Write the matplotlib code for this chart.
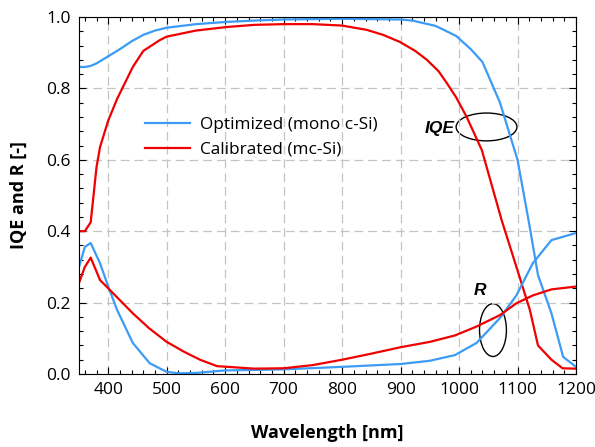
import matplotlib.pyplot as plt
from matplotlib.patches import Ellipse
from matplotlib.ticker import MultipleLocator

# Internal quantum efficiency and reflectance curves
wl_iqe_opt = [350, 360, 370, 380, 400, 420, 440, 460, 480, 500, 550, 600, 650, 700, 800, 900, 920,
              960, 995, 1020, 1040, 1070, 1100, 1120, 1135, 1158, 1178, 1200]
iqe_opt = [0.860, 0.860, 0.863, 0.870, 0.890, 0.910, 0.932, 0.950, 0.962, 0.970, 0.980, 0.986,
           0.990, 0.993, 0.995, 0.993, 0.990, 0.975, 0.947, 0.910, 0.874, 0.760, 0.600, 0.420,
           0.277, 0.170, 0.048, 0.020]

wl_iqe_cal = [350, 360, 370, 380, 386, 400, 415, 442, 460, 488, 500, 550, 603, 650, 700, 750, 800,
              842, 870, 899, 925, 945, 965, 979, 995, 1013, 1039, 1073, 1100, 1121, 1135, 1158,
              1177, 1200]
iqe_cal = [0.400, 0.400, 0.425, 0.580, 0.636, 0.710, 0.770, 0.860, 0.905, 0.935, 0.945, 0.962,
           0.972, 0.978, 0.980, 0.980, 0.976, 0.964, 0.950, 0.930, 0.905, 0.880, 0.848, 0.815,
           0.775, 0.720, 0.627, 0.430, 0.290, 0.180, 0.080, 0.040, 0.016, 0.015]

wl_r_opt = [350, 360, 370, 386, 400, 415, 442, 471, 500, 520, 550, 600, 700, 800, 900, 950, 993,
            1030, 1070, 1098, 1126, 1158, 1200]
r_opt = [0.300, 0.356, 0.367, 0.310, 0.245, 0.180, 0.087, 0.030, 0.006, 0.002, 0.003, 0.010,
         0.013, 0.020, 0.028, 0.037, 0.053, 0.087, 0.157, 0.220, 0.310, 0.375, 0.395]

wl_r_cal = [350, 360, 370, 386, 400, 442, 470, 500, 530, 557, 586, 650, 700, 750, 800, 850, 900,
            950, 993, 1030, 1070, 1098, 1126, 1158, 1200]
r_cal = [0.255, 0.300, 0.326, 0.263, 0.240, 0.170, 0.128, 0.090, 0.062, 0.040, 0.022, 0.015,
         0.016, 0.025, 0.040, 0.057, 0.075, 0.090, 0.108, 0.133, 0.165, 0.198, 0.220, 0.237, 0.245]

blue = '#3b9bf5'
red = '#f00000'

fig = plt.figure(figsize=(5.95, 4.47), dpi=100)
ax = fig.add_axes([79 / 595, 1 - 374 / 447, 497 / 595, 357 / 447])

ax.plot(wl_iqe_opt, iqe_opt, color=blue, lw=1.6, label='Optimized (mono c-Si)')
ax.plot(wl_iqe_cal, iqe_cal, color=red, lw=1.6, label='Calibrated (mc-Si)')
ax.plot(wl_r_opt, r_opt, color=blue, lw=1.6)
ax.plot(wl_r_cal, r_cal, color=red, lw=1.6)

ax.set_xlim(350, 1200)
ax.set_ylim(0, 1.0)
ax.xaxis.set_major_locator(MultipleLocator(100))
ax.xaxis.set_minor_locator(MultipleLocator(20))
ax.yaxis.set_major_locator(MultipleLocator(0.2))
ax.yaxis.set_minor_locator(MultipleLocator(0.04))
ax.set_xticks(range(400, 1201, 100))
ax.tick_params(which='both', direction='in', top=True, right=True, labelsize=12.5, width=0.8)
ax.tick_params(which='major', length=5, pad=6)
ax.tick_params(which='minor', length=3)
for lab in ax.get_xticklabels() + ax.get_yticklabels():
    lab.set_family('Open Sans')
ax.yaxis.set_major_formatter(plt.FormatStrFormatter('%.1f'))
ax.grid(True, which='major', color='#c4c4c4', lw=0.9, linestyle=(0, (7, 4)))
for s in ax.spines.values():
    s.set_linewidth(0.8)

ax.set_xlabel('Wavelength [nm]', family='Open Sans', weight='bold', fontsize=13)
ax.set_ylabel('IQE and R [-]', family='Open Sans', weight='bold', fontsize=13)
ax.xaxis.set_label_coords(0.5, -0.141)
ax.yaxis.set_label_coords(-0.103, 0.5)

leg = ax.legend(loc='upper left', bbox_to_anchor=(0.133, 0.72), frameon=False,
                prop={'family': 'Open Sans', 'size': 12.4}, handlelength=2.6,
                handletextpad=0.58, labelspacing=0.5, borderpad=0, borderaxespad=0)

# Ellipses marking the IQE and R curve groups
ax.add_patch(Ellipse((1047, 0.692), 104, 0.078, fill=False, ec='black', lw=1.0))
ax.text(993, 0.689, 'IQE', ha='right', va='center', family='Liberation Sans',
        weight='bold', style='italic', fontsize=12.5)
ax.add_patch(Ellipse((1058, 0.123), 46, 0.148, fill=False, ec='black', lw=1.0))
ax.text(1036, 0.235, 'R', ha='center', va='center', family='Liberation Sans',
        weight='bold', style='italic', fontsize=12.5)

fig.savefig('out.png', dpi=100)
